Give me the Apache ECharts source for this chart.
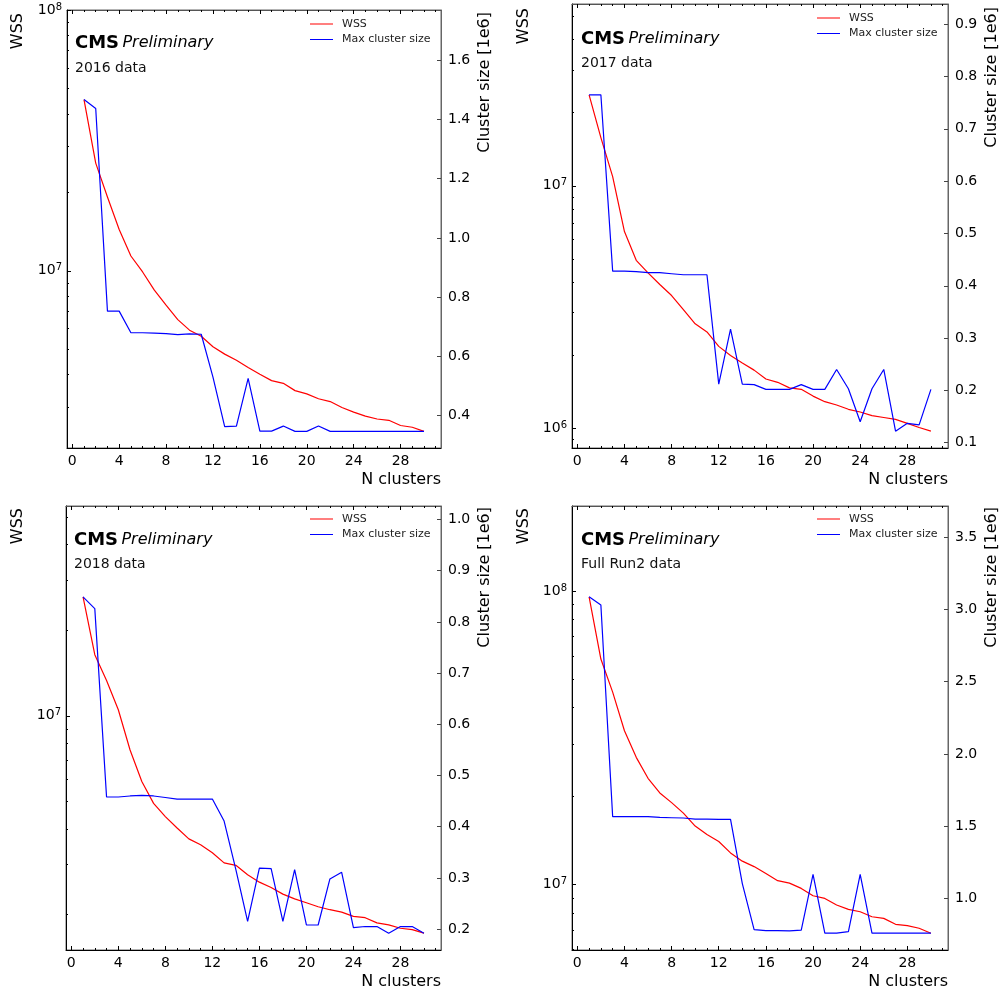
<!DOCTYPE html>
<html><head><meta charset="utf-8">
<script src="https://cdn.jsdelivr.net/npm/echarts@6/dist/echarts.min.js"></script>
<style>html,body{margin:0;padding:0;background:#fff}#c{width:1003px;height:994px}</style>
</head><body><div id="c"></div>
<script>
// ---------------- data ----------------
const nClusters = [1,2,3,4,5,6,7,8,9,10,11,12,13,14,15,16,17,18,19,20,21,22,23,24,25,26,27,28,29,30];

const wss2016 = [4.54e7,2.59e7,1.92e7,1.44e7,1.14e7,9.9e6,8.43e6,7.38e6,6.50e6,5.92e6,5.61e6,5.11e6,4.79e6,4.54e6,4.26e6,4.01e6,3.79e6,3.70e6,3.47e6,3.37e6,3.23e6,3.15e6,2.99e6,2.87e6,2.77e6,2.70e6,2.67e6,2.55e6,2.51e6,2.42e6];
const max2016 = [1.467,1.437,0.753,0.753,0.680,0.680,0.679,0.677,0.674,0.676,0.675,0.530,0.363,0.365,0.526,0.348,0.348,0.365,0.347,0.347,0.365,0.347,0.347,0.347,0.347,0.347,0.347,0.347,0.347,0.347];

const wss2017 = [2.37e7,1.58e7,1.09e7,6.48e6,4.93e6,4.38e6,3.92e6,3.53e6,3.09e6,2.70e6,2.50e6,2.18e6,2.00e6,1.86e6,1.74e6,1.60e6,1.55e6,1.47e6,1.45e6,1.36e6,1.29e6,1.25e6,1.20e6,1.17e6,1.13e6,1.11e6,1.09e6,1.05e6,1.01e6,9.75e5];
const max2017 = [0.765,0.765,0.428,0.428,0.427,0.425,0.425,0.423,0.421,0.421,0.421,0.212,0.317,0.212,0.211,0.202,0.202,0.202,0.211,0.202,0.202,0.240,0.203,0.140,0.203,0.240,0.122,0.137,0.134,0.202];

const wss2018 = [2.62e7,1.64e7,1.33e7,1.05e7,7.58e6,5.87e6,4.92e6,4.42e6,4.03e6,3.69e6,3.52e6,3.30e6,3.04e6,2.98e6,2.76e6,2.60e6,2.49e6,2.36e6,2.27e6,2.20e6,2.13e6,2.08e6,2.04e6,1.97e6,1.95e6,1.87e6,1.84e6,1.79e6,1.77e6,1.72e6];
const max2018 = [0.849,0.826,0.458,0.458,0.460,0.461,0.460,0.457,0.454,0.454,0.454,0.454,0.411,0.316,0.215,0.319,0.318,0.215,0.316,0.208,0.208,0.298,0.311,0.203,0.205,0.205,0.192,0.205,0.205,0.192];

const wssRun2 = [9.55e7,5.86e7,4.52e7,3.34e7,2.71e7,2.30e7,2.05e7,1.90e7,1.75e7,1.58e7,1.48e7,1.40e7,1.28e7,1.20e7,1.15e7,1.09e7,1.03e7,1.01e7,9.69e6,9.15e6,8.96e6,8.51e6,8.22e6,8.07e6,7.76e6,7.66e6,7.31e6,7.24e6,7.09e6,6.82e6];
const maxRun2 = [3.086,3.029,1.566,1.566,1.566,1.566,1.561,1.559,1.557,1.550,1.550,1.547,1.547,1.104,0.786,0.779,0.779,0.777,0.782,1.168,0.761,0.761,0.772,1.168,0.761,0.761,0.761,0.761,0.761,0.761];

// ---------------- ticks / labels ----------------
const xTicks = [0,4,8,12,16,20,24,28];
const xMinorTicks = [0,1,2,3,4,5,6,7,8,9,10,11,12,13,14,15,16,17,18,19,20,21,22,23,24,25,26,27,28,29,30,31];
const logSubs = [2,3,4,5,6,7,8,9];
const leftTicks2016 = [1e7,1e8];
const leftTicks2017 = [1e6,1e7];
const leftTicks2018 = [1e7];
const leftTicksRun2 = [1e7,1e8];
const rightTicks2016 = [0.4,0.6,0.8,1.0,1.2,1.4,1.6];
const rightTicks2017 = [0.1,0.2,0.3,0.4,0.5,0.6,0.7,0.8,0.9];
const rightTicks2018 = [0.2,0.3,0.4,0.5,0.6,0.7,0.8,0.9,1.0];
const rightTicksRun2 = [1.0,1.5,2.0,2.5,3.0,3.5];
const seriesNames = ['WSS','Max cluster size'];
const panelLabels = ['2016 data','2017 data','2018 data','Full Run2 data'];
const xTitle = 'N clusters';
const yLeftTitle = 'WSS';
const yRightTitle = 'Cluster size [1e6]';

// ---------------- layout ----------------
const FONT = 'DejaVu Sans';
const LEGEND_LINE = 'path://M0,0L0.01,0L0.01,0.01L0,0.01Z M0,6.4L23,6.4L23,7.6L0,7.6Z M0,13.99L0.01,13.99L0.01,14L0,14Z';
const layout = [
  {grid:{left:67,top:10,width:374,height:438}, cms:[75,43], sub:[75,68], legend:[310,17], wssLab:[18,13], sizeLab:[485,12], nLab:[441,480]},
  {grid:{left:572,top:4,width:376,height:444}, cms:[581,39], sub:[581,63], legend:[817,11], wssLab:[524,8], sizeLab:[992,7], nLab:[948,480]},
  {grid:{left:66,top:506,width:375,height:444}, cms:[74,540], sub:[74,564], legend:[310,512], wssLab:[18,508], sizeLab:[485,507], nLab:[441,982]},
  {grid:{left:572,top:506,width:376,height:444}, cms:[581,540], sub:[581,564], legend:[817,512], wssLab:[524,508], sizeLab:[992,507], nLab:[948,982]}
];
const panels = [
  {wss:wss2016, size:max2016, lt:leftTicks2016, rt:rightTicks2016},
  {wss:wss2017, size:max2017, lt:leftTicks2017, rt:rightTicks2017},
  {wss:wss2018, size:max2018, lt:leftTicks2018, rt:rightTicks2018},
  {wss:wssRun2, size:maxRun2, lt:leftTicksRun2, rt:rightTicksRun2}
];

function linLimits(a){ const lo0=Math.min(...a), hi0=Math.max(...a), R=hi0-lo0; const lo=lo0-0.05*R; return [lo, lo+1.32*R]; }
function logLimits(a){ const l=a.map(v=>Math.log10(v)); const [lo,hi]=linLimits(l); return [Math.pow(10,lo), Math.pow(10,hi)]; }
const xs0 = Math.min(...nClusters), xs1 = Math.max(...nClusters), xSpan = xs1-xs0;
const xRange = [xs0-0.05*xSpan, xs1+0.05*xSpan];

const grid=[], xAxis=[], yAxis=[], series=[], legend=[], graphic=[];
panels.forEach((p,k)=>{
  const L = layout[k];
  grid.push(Object.assign({show:true, borderColor:'#666', borderWidth:1, containLabel:false, outerBoundsMode:'none'}, L.grid));
  const xc = {type:'value', gridIndex:k, min:xRange[0], max:xRange[1], splitLine:{show:false}, silent:true};
  xAxis.push(Object.assign({}, xc, {position:'bottom', axisLine:{onZero:false, lineStyle:{color:'#000',width:1}},
    axisTick:{inside:true, length:4, customValues:xTicks, lineStyle:{color:'#000'}},
    axisLabel:{customValues:xTicks, margin:6, fontSize:14, color:'#000', fontFamily:FONT}}));
  xAxis.push(Object.assign({}, xc, {position:'bottom', axisLine:{show:false, onZero:false},
    axisTick:{inside:true, length:2, customValues:xMinorTicks, lineStyle:{color:'#000'}}, axisLabel:{show:false}}));
  xAxis.push(Object.assign({}, xc, {position:'top', axisLine:{onZero:false, lineStyle:{color:'#555',width:1}},
    axisTick:{inside:true, length:4, customValues:xTicks, lineStyle:{color:'#000'}}, axisLabel:{show:false}}));
  xAxis.push(Object.assign({}, xc, {position:'top', axisLine:{show:false, onZero:false},
    axisTick:{inside:true, length:2, customValues:xMinorTicks, lineStyle:{color:'#000'}}, axisLabel:{show:false}}));

  const ll = logLimits(p.wss);
  const minor = [];
  for (let d=Math.floor(Math.log10(ll[0])); d<=Math.ceil(Math.log10(ll[1])); d++) {
    logSubs.forEach(s=>{ const v=s*Math.pow(10,d); if (v>=ll[0] && v<=ll[1]) minor.push(v); });
  }
  yAxis.push({type:'log', gridIndex:k, position:'left', min:ll[0], max:ll[1], splitLine:{show:false},
    axisLine:{onZero:false, lineStyle:{color:'#000',width:1}},
    axisTick:{inside:true, length:4, customValues:p.lt, lineStyle:{color:'#000'}},
    axisLabel:{customValues:p.lt, margin:5, fontSize:14, color:'#000', fontFamily:FONT,
      formatter: v => '10{s|' + Math.round(Math.log10(v)) + '}',
      rich:{s:{fontSize:10, fontFamily:FONT, color:'#000', verticalAlign:'top', padding:[0,0,6,0]}}}});
  yAxis.push({type:'log', gridIndex:k, position:'left', min:ll[0], max:ll[1], splitLine:{show:false},
    axisLine:{show:false, onZero:false},
    axisTick:{inside:true, length:2, customValues:minor, lineStyle:{color:'#000'}},
    axisLabel:{show:false}});
  const rl = linLimits(p.size);
  yAxis.push({type:'value', gridIndex:k, position:'right', min:rl[0], max:rl[1], splitLine:{show:false},
    axisLine:{onZero:false, lineStyle:{color:'#666',width:1}},
    axisTick:{inside:true, length:4, customValues:p.rt, lineStyle:{color:'#444'}},
    axisLabel:{customValues:p.rt, margin:7, fontSize:14, color:'#000', fontFamily:FONT, formatter: v => v.toFixed(1)}});

  series.push({type:'line', name:seriesNames[0], xAxisIndex:4*k, yAxisIndex:3*k, symbol:'none', animation:false,
    data: nClusters.map((x,i)=>[x,p.wss[i]]), lineStyle:{color:'#ff0000', width:1.2}, itemStyle:{color:'#ff0000'}});
  series.push({type:'line', name:seriesNames[1], xAxisIndex:4*k, yAxisIndex:3*k+2, symbol:'none', animation:false,
    data: nClusters.map((x,i)=>[x,p.size[i]]), lineStyle:{color:'#0000ff', width:1.2}, itemStyle:{color:'#0000ff'}});

  legend.push({orient:'vertical', left:L.legend[0], top:L.legend[1], itemWidth:23, itemHeight:14, itemGap:1.5, padding:0,
    icon: LEGEND_LINE, selectedMode:false, data:seriesNames,
    textStyle:{fontSize:11, color:'#222', fontFamily:FONT, padding:[0,0,0,4]}});

  graphic.push({type:'text', x:L.cms[0], y:L.cms[1], silent:true, style:{
    text:'{a|CMS} {b|Preliminary}', align:'left', verticalAlign:'middle', textAlign:'left', textVerticalAlign:'middle', fill:'#000',
    rich:{a:{fontSize:18, fontWeight:'bold', fontFamily:FONT, fill:'#000', color:'#000'}, b:{fontSize:16, fontStyle:'italic', fontFamily:FONT, fill:'#000', color:'#000'}}}});
  graphic.push({type:'text', x:L.sub[0], y:L.sub[1], silent:true, style:{text:panelLabels[k], font:'14px "DejaVu Sans"', fill:'#111',
    align:'left', verticalAlign:'middle', textAlign:'left', textVerticalAlign:'middle'}});
  graphic.push({type:'text', x:L.wssLab[0], y:L.wssLab[1], rotation:Math.PI/2, silent:true, style:{text:yLeftTitle, font:'16px "DejaVu Sans"', fill:'#000',
    align:'right', verticalAlign:'middle', textAlign:'right', textVerticalAlign:'middle'}});
  graphic.push({type:'text', x:L.sizeLab[0], y:L.sizeLab[1], rotation:Math.PI/2, silent:true, style:{text:yRightTitle, font:'16px "DejaVu Sans"', fill:'#000',
    align:'right', verticalAlign:'middle', textAlign:'right', textVerticalAlign:'middle'}});
  graphic.push({type:'text', x:L.nLab[0], y:L.nLab[1], silent:true, style:{text:xTitle, font:'16px "DejaVu Sans"', fill:'#000',
    align:'right', verticalAlign:'middle', textAlign:'right', textVerticalAlign:'middle'}});
});

const chart = echarts.init(document.getElementById('c'), null, {renderer:'canvas'});
chart.setOption({animation:false, backgroundColor:'#fff', textStyle:{fontFamily:FONT},
  grid, xAxis, yAxis, series, legend, graphic});
</script></body></html>
